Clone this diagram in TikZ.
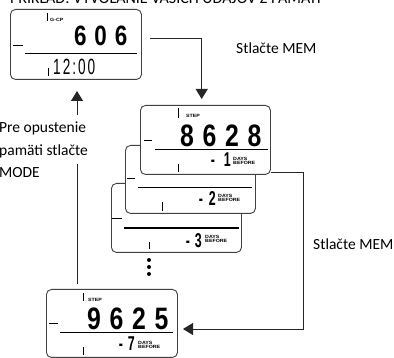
\documentclass[tikz,border=0pt]{standalone}
\usepackage{fontspec}
\setmainfont{Carlito}
\newfontfamily\lcdfont[FakeStretch=0.8,LetterSpace=28]{Liberation Sans}
\newfontfamily\lcdtime[FakeStretch=0.62,LetterSpace=9]{Liberation Sans}
\newfontfamily\lcdnarrow[FakeStretch=0.62]{Liberation Sans}
\newfontfamily\lcdtiny[FakeStretch=1.15]{Liberation Sans}
\usetikzlibrary{arrows.meta,positioning,calc}
\tikzset{
  lcdbox/.style={draw=black!75, line width=0.9pt, rounded corners=5pt, fill=white},
  bigdigits/.style={inner sep=0pt, font=\lcdfont\bfseries\fontsize{31}{31}\selectfont},
  timedigits/.style={inner sep=0pt, font=\lcdtime\fontsize{22}{22}\selectfont},
  smalldigits/.style={inner sep=0pt, font=\lcdnarrow\bfseries\fontsize{20}{20}\selectfont},
  tinylabel/.style={inner sep=0pt, font=\lcdtiny\bfseries\fontsize{4.6}{4.8}\selectfont, align=left},
  caption/.style={inner sep=0pt, font=\fontsize{15.5}{22.5}\selectfont, align=left},
  wire/.style={draw=black!85, line width=0.9pt},
  arrowwire/.style={wire, -{Triangle[length=10pt,width=12pt]}}
}
\begin{document}
\begin{tikzpicture}[x=1pt, y=-1pt]
  \useasboundingbox (0,0) rectangle (394,358);
  \node[caption, font=\fontsize{16}{20}\selectfont, anchor=base west] (title) at (10,4) {PRÍKLAD: VYVOLANIE VAŠICH ÚDAJOV Z PAMÄTI};

  % Display 1: daily total
  \node[lcdbox, anchor=north west, minimum width=131pt, minimum height=70pt] (lcda) at (10,9) {};
  \draw (47,13) -- (47,21);
  \node[tinylabel, anchor=west] (lcdatag) at (50,20) {G-CP};
  \draw (13,45) -- (23,45);
  \draw[line width=0.8pt] (25,53) -- (137,53);
  \node[bigdigits, font=\lcdfont\bfseries\fontsize{28}{28}\selectfont, anchor=base west] (lcdanum) at (74,46) {606};
  \node[timedigits, anchor=base west] (lcdatime) at (53,75) {12:00};
  \draw (48,68) -- (48,76);

  % Display 4, 3 and 2: stacked behind
  \node[lcdbox, anchor=north west, minimum width=130pt, minimum height=69pt] (lcdd) at (111,183) {};
  \draw (112,218) -- (122,218);
  \draw[line width=1.4pt] (124,228) -- (239,228);
  \node[smalldigits, anchor=base east] (lcddnum) at (202,248) {-\hspace{5pt}3};
  \node[tinylabel, anchor=west] (lcddtag) at (205,239) {DAYS\\BEFORE};
  \draw (149,242) -- (149,249);

  \node[lcdbox, anchor=north west, minimum width=130pt, minimum height=68pt] (lcdc) at (125,145) {};
  \draw (127,178) -- (135,178);
  \draw[line width=0.8pt] (138,187) -- (252,187);
  \node[smalldigits, anchor=base east] (lcdcnum) at (216,206) {-\hspace{6pt}2};
  \node[tinylabel, anchor=west] (lcdctag) at (218,198) {DAYS\\BEFORE};
  \draw (162,202) -- (162,211);

  \node[lcdbox, anchor=north west, minimum width=130pt, minimum height=69pt] (lcdb) at (140,105) {};
  \draw (178,108) -- (178,118);
  \node[tinylabel, anchor=west] (lcdbtag) at (186,116) {STEP};
  \draw (144,140) -- (152,140);
  \draw[line width=0.8pt] (155,149) -- (268,149);
  \node[bigdigits, anchor=base west] (lcdbnum) at (180,147) {8628};
  \node[smalldigits, anchor=base east] (lcdbnuma) at (231,167) {-\hspace{9pt}1};
  \node[tinylabel, anchor=west] (lcdbdays) at (233,161) {DAYS\\BEFORE};
  \draw (178,164) -- (178,172);

  % Display 5: last day
  \node[lcdbox, anchor=north west, minimum width=131pt, minimum height=68pt] (lcde) at (46,289) {};
  \draw (83,293) -- (83,301);
  \node[tinylabel, anchor=west] (lcdetag) at (88,300) {STEP};
  \draw (49,323) -- (58,323);
  \draw[line width=0.8pt] (60,332) -- (173,332);
  \node[bigdigits, anchor=base west] (lcdenum) at (87,330) {9625};
  \node[smalldigits, anchor=base east] (lcdenuma) at (135,351) {-\hspace{5pt}7};
  \node[tinylabel, anchor=west] (lcdedays) at (138,345) {DAYS\\BEFORE};
  \draw (83,347) -- (83,355);

  % dots between the stack and the last display
  \foreach \y in {260,267,274}
    \fill (149,\y) circle (2pt);

  % Labels
  \node[caption, anchor=west] (pressa) at (236,48) {Stlačte MEM};
  \node[caption, anchor=west] (pressb) at (313,244) {Stlačte MEM};
  \node[caption, anchor=west] (leave) at (-1,150) {Pre opustenie\\pamäti stlačte\\MODE};

  % Connectors
  \coordinate (corneraa) at (201.7,38);
  \coordinate (startaa) at (150,38);
  \coordinate (cornerbb) at (303,172);
  \coordinate (cornerbc) at (303,329);
  \coordinate (tipa) at (77,91);
  \coordinate (gapa) at (77,115);
  \coordinate (gapb) at (77,164);
  \coordinate (foota) at (77,284);
  \coordinate (tipb) at (201.7,99);
  \coordinate (tipc) at (183,329);
  \draw[arrowwire] (startaa) -- (corneraa) -- (tipb);
  \draw[arrowwire] (lcdb.south east |- cornerbb) -- (cornerbb) -- (cornerbc) -- (tipc);
  \draw[wire] (foota) -- (gapb);
  \draw[arrowwire] (gapa) -- (tipa);
\end{tikzpicture}
\end{document}
